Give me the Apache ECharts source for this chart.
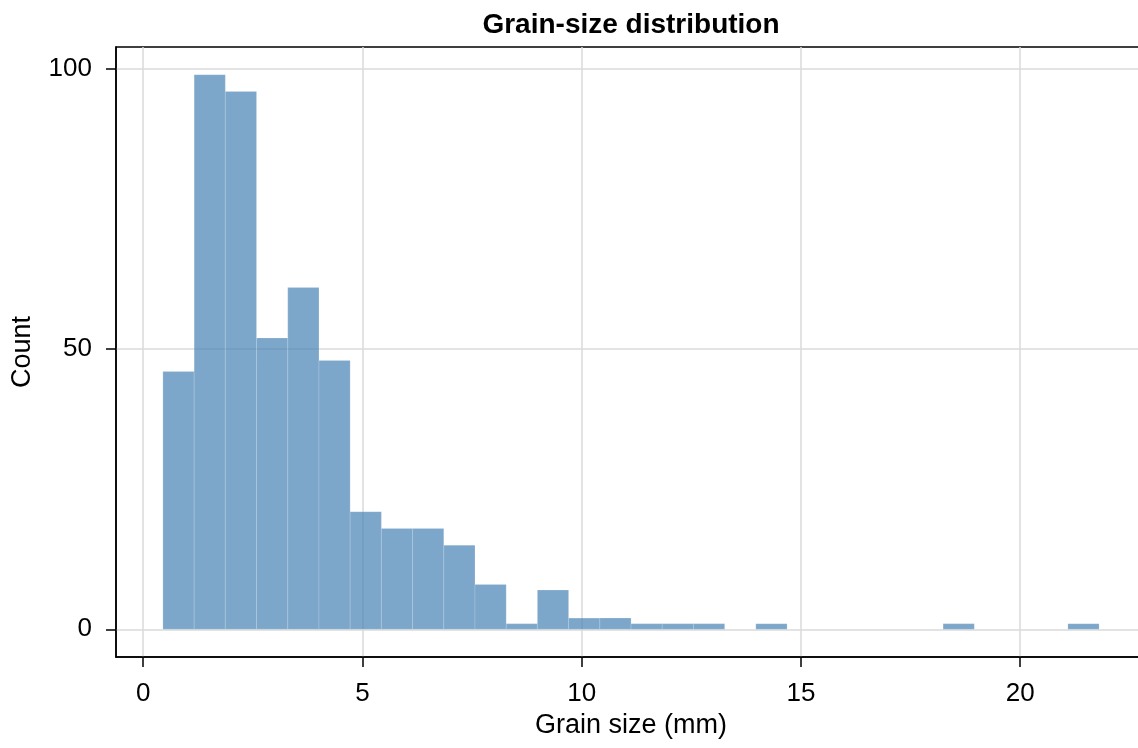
<!DOCTYPE html>
<html>
<head>
<meta charset="utf-8">
<script src="https://cdn.jsdelivr.net/npm/echarts@6/dist/echarts.min.js"></script>
<style>html,body{margin:0;padding:0;background:#fff;overflow:hidden}#chart{width:1146px;height:748px}</style>
</head>
<body>
<div id="chart"></div>
<script>
// Histogram bin edges (mm)
const binEdges = [0.45, 1.162, 1.873, 2.585, 3.297, 4.009, 4.720, 5.432, 6.144, 6.855,
  7.567, 8.279, 8.990, 9.702, 10.414, 11.126, 11.837, 12.549, 13.261, 13.972,
  14.684, 15.396, 16.107, 16.819, 17.531, 18.243, 18.954, 19.666, 20.378, 21.089, 21.80];
// Counts per bin
const counts = [46, 99, 96, 52, 61, 48, 21, 18, 18, 15, 8, 1, 7, 2, 2, 1, 1, 1, 0, 1,
  0, 0, 0, 0, 0, 1, 0, 0, 0, 1];
const xTicks = [0, 5, 10, 15, 20];
const yTicks = [0, 50, 100];
const titleText = 'Grain-size distribution';
const xLabel = 'Grain size (mm)';
const yLabel = 'Count';

const data = counts.map((c, i) => [binEdges[i], binEdges[i + 1], c]);
const FONT = "'Liberation Sans', Arial, sans-serif";

const chart = echarts.init(document.getElementById('chart'), null, {renderer: 'canvas'});
chart.setOption({
  animation: false,
  backgroundColor: '#fff',
  textStyle: {fontFamily: FONT},
  graphic: [{
    type: 'text', x: 631, y: 11,
    style: {text: titleText, textAlign: 'center', textVerticalAlign: 'top', font: "bold 28px 'Liberation Sans', Arial, sans-serif", fill: '#000'}
  }],
  grid: {left: 116, right: 0, top: 47, bottom: 91, show: true, borderColor: '#000', borderWidth: 1.5, containLabel: false},
  xAxis: {
    type: 'value', min: -0.62, max: 22.87,
    name: xLabel, nameLocation: 'middle', nameGap: 54,
    nameTextStyle: {fontSize: 27, color: '#000', fontFamily: FONT},
    axisLine: {show: true, onZero: false, lineStyle: {color: '#000', width: 1.5}},
    axisTick: {show: true, customValues: xTicks, length: 10, lineStyle: {color: '#000', width: 1.5}},
    axisLabel: {customValues: xTicks, fontSize: 26, color: '#000', margin: 24, fontFamily: FONT},
    splitLine: {show: true, lineStyle: {color: '#dadada', width: 1.5}}
  },
  yAxis: {
    type: 'value', min: -4.95, max: 103.95,
    name: yLabel, nameLocation: 'middle', nameGap: 80, nameRotate: 90,
    nameTextStyle: {fontSize: 27, color: '#000', fontFamily: FONT},
    axisLine: {show: true, onZero: false, lineStyle: {color: '#000', width: 1.5}},
    axisTick: {show: true, customValues: yTicks, length: 10, lineStyle: {color: '#000', width: 1.5}},
    axisLabel: {customValues: yTicks, fontSize: 26, color: '#000', margin: 24, fontFamily: FONT},
    splitLine: {show: true, lineStyle: {color: '#dadada', width: 1.5}}
  },
  series: [{
    type: 'custom',
    data: data,
    encode: {x: [0, 1], y: 2},
    renderItem: function (params, api) {
      const c = api.value(2);
      if (!c) return null;
      const p0 = api.coord([api.value(0), c]);
      const p1 = api.coord([api.value(1), 0]);
      return {
        type: 'rect',
        shape: {x: p0[0], y: p0[1], width: p1[0] - p0[0], height: p1[1] - p0[1]},
        style: {fill: 'rgba(70,130,180,0.7)', stroke: 'rgba(255,255,255,0.2)', lineWidth: 0.8}
      };
    }
  }]
});
</script>
</body>
</html>
